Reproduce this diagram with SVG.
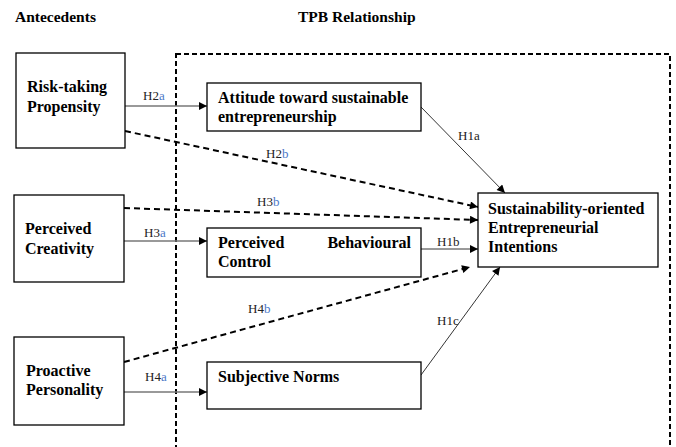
<svg xmlns="http://www.w3.org/2000/svg" width="676" height="447" viewBox="0 0 676 447">
<style>
  .box { fill: #fff; stroke: #000; stroke-width: 1.3; }
  .t { font-family: "Liberation Serif", "Times New Roman", serif; font-weight: bold; font-size: 16px; fill: #000; }
  .h { font-family: "Liberation Serif", "Times New Roman", serif; font-weight: bold; font-size: 15.5px; fill: #000; }
  .lb { font-family: "Liberation Serif", "Times New Roman", serif; font-size: 13px; fill: #222; }
  .bl { fill: #4a78c8; }
  .dash { fill: none; stroke: #000; stroke-width: 2; stroke-dasharray: 6 4; }
  .thin { fill: none; stroke: #000; stroke-width: 0.8; }
  .solid { fill: none; stroke: #777; stroke-width: 1.3; }
</style>
<defs>
  <marker id="ah" viewBox="0 0 10 10" refX="10" refY="5" markerWidth="10" markerHeight="8" markerUnits="userSpaceOnUse" orient="auto">
    <path d="M0,0 L10,5 L0,10 z" fill="#000"/>
  </marker>
</defs>
<rect width="676" height="447" fill="#fff"/>
<text class="h" x="15" y="22">Antecedents</text>
<text class="h" x="298" y="22">TPB Relationship</text>
<rect x="176" y="54" width="494" height="420" fill="none" stroke="#000" stroke-width="2" stroke-dasharray="5 3"/>

<g id="connectors">
  <line class="solid" x1="125" y1="106" x2="207" y2="106" marker-end="url(#ah)"/>
  <line class="solid" x1="124" y1="241" x2="207" y2="241" stroke="#222" marker-end="url(#ah)"/>
  <line class="solid" x1="124" y1="392" x2="207" y2="392" marker-end="url(#ah)"/>
  <line class="dash" x1="125" y1="131" x2="478" y2="207" marker-end="url(#ah)"/>
  <line class="dash" x1="124" y1="208" x2="478" y2="220" marker-end="url(#ah)"/>
  <line class="dash" x1="124" y1="362" x2="470" y2="267" marker-end="url(#ah)"/>
  <line class="thin" x1="421" y1="107" x2="505" y2="193" marker-end="url(#ah)"/>
  <line class="thin" x1="421" y1="249" x2="478" y2="249" marker-end="url(#ah)"/>
  <line class="thin" x1="421" y1="375" x2="500" y2="267" marker-end="url(#ah)"/>
  <text class="lb" x="143" y="100">H2<tspan class="bl">a</tspan></text>
  <text class="lb" x="144" y="237">H3<tspan class="bl">a</tspan></text>
  <text class="lb" x="145" y="381">H4<tspan class="bl">a</tspan></text>
  <text class="lb" x="266" y="158">H2<tspan class="bl">b</tspan></text>
  <text class="lb" x="257" y="206">H3<tspan class="bl">b</tspan></text>
  <text class="lb" x="248" y="313">H4<tspan class="bl">b</tspan></text>
  <text class="lb" x="458" y="140">H1a</text>
  <text class="lb" x="437" y="246">H1b</text>
  <text class="lb" x="437" y="325">H1c</text>
</g>

<g id="risk">
  <rect class="box" x="16" y="53" width="109" height="95"/>
  <text class="t" x="27" y="92">Risk-taking</text>
  <text class="t" x="27" y="112">Propensity</text>
</g>
<g id="creativity">
  <rect class="box" x="14" y="195" width="110" height="87"/>
  <text class="t" x="25" y="234">Perceived</text>
  <text class="t" x="25" y="254">Creativity</text>
</g>
<g id="proactive">
  <rect class="box" x="14" y="337" width="110" height="88"/>
  <text class="t" x="26" y="376">Proactive</text>
  <text class="t" x="26" y="395">Personality</text>
</g>
<g id="attitude">
  <rect class="box" x="207" y="83" width="214" height="48"/>
  <text class="t" x="218" y="103">Attitude toward sustainable</text>
  <text class="t" x="218" y="122">entrepreneurship</text>
</g>
<g id="pbc">
  <rect class="box" x="207" y="228" width="214" height="49"/>
  <text class="t" x="218" y="248">Perceived</text>
  <text class="t" x="411" y="248" text-anchor="end">Behavioural</text>
  <text class="t" x="218" y="267">Control</text>
</g>
<g id="norms">
  <rect class="box" x="207" y="362" width="214" height="47"/>
  <text class="t" x="218" y="382">Subjective Norms</text>
</g>
<g id="intentions">
  <rect class="box" x="478" y="193" width="180" height="74"/>
  <text class="t" x="488" y="214">Sustainability-oriented</text>
  <text class="t" x="488" y="233">Entrepreneurial</text>
  <text class="t" x="488" y="252">Intentions</text>
</g>
</svg>
